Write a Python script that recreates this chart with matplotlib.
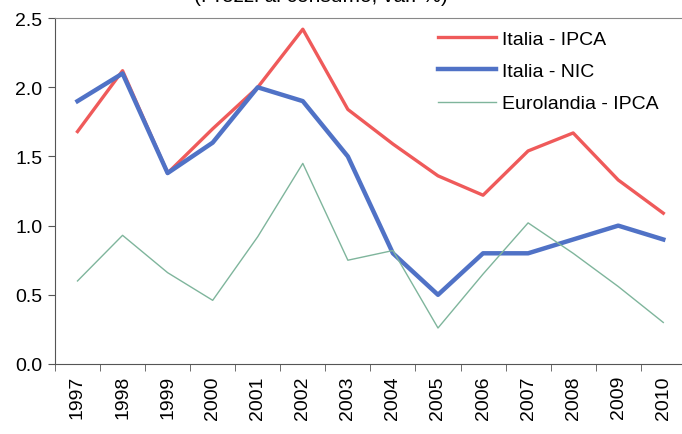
import matplotlib.pyplot as plt
from matplotlib.ticker import FixedLocator, NullFormatter

anni = ['1997', '1998', '1999', '2000', '2001', '2002', '2003',
        '2004', '2005', '2006', '2007', '2008', '2009', '2010']
italia_ipca = [1.68, 2.12, 1.38, 1.70, 2.00, 2.42, 1.84,
               1.59, 1.36, 1.22, 1.54, 1.67, 1.33, 1.09]
italia_nic = [1.90, 2.10, 1.38, 1.60, 2.00, 1.90, 1.50,
              0.80, 0.50, 0.80, 0.80, 0.90, 1.00, 0.90]
euro_ipca = [0.60, 0.93, 0.66, 0.46, 0.92, 1.45, 0.75,
             0.82, 0.26, 0.65, 1.02, 0.80, 0.56, 0.30]

plt.rcParams['font.family'] = ['Liberation Sans', 'DejaVu Sans']

fig = plt.figure(figsize=(6.82, 4.35), dpi=100)
ax = fig.add_axes([0.0806, 0.161, 0.925, 0.795])

x = list(range(len(anni)))
ax.plot(x, italia_ipca, color='#ef5a5a', lw=2.4, label='Italia - IPCA')
ax.plot(x, italia_nic, color='#5072c6', lw=3.2, label='Italia - NIC')
ax.plot(x, euro_ipca, color='#7fb59c', lw=1.0, label='Eurolandia - IPCA')

ax.set_xlim(-0.5, 13.5)
ax.set_ylim(0, 2.5)
ax.set_yticks([0, 0.5, 1.0, 1.5, 2.0, 2.5])
ax.set_yticklabels(['0.0', '0.5', '1.0', '1.5', '2.0', '2.5'], fontsize=14)
ax.set_xticks(x)
ax.set_xticklabels(anni, rotation=90, fontsize=14)
ax.tick_params(axis='x', which='major', length=0, pad=8)
ax.xaxis.set_minor_locator(FixedLocator([i - 0.5 for i in range(15)]))
ax.xaxis.set_minor_formatter(NullFormatter())
ax.tick_params(axis='x', which='minor', length=5, color='#555555')
ax.tick_params(axis='y', length=5, color='#555555', pad=4)

for s in ['left', 'bottom']:
    ax.spines[s].set_color('#555555')
ax.spines['top'].set_color('#888888')
ax.spines['right'].set_visible(False)

leg = ax.legend(loc='upper right', frameon=False, fontsize=14, handlelength=3.0,
                handletextpad=0.3, labelspacing=0.75, bbox_to_anchor=(0.985, 1.015))

fig.text(0.47, 1.008, '(Prezzi al consumo, var. %)', ha='center', va='center', fontsize=15)

fig.savefig('out.png', dpi=100)
